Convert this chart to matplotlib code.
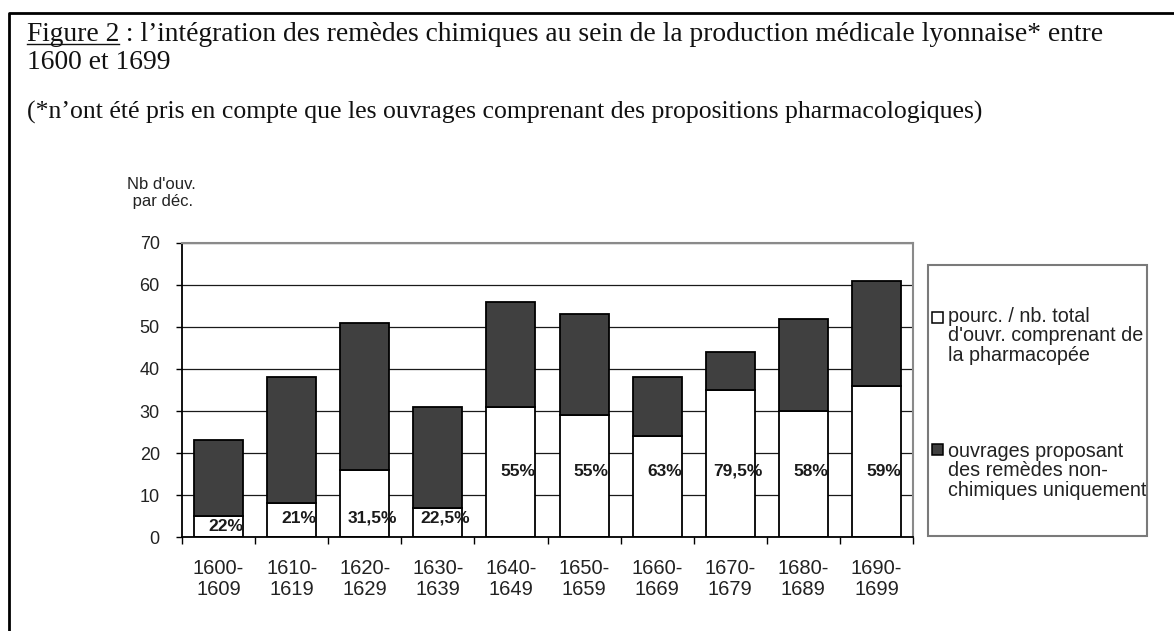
import numpy as np
import matplotlib
matplotlib.use('Agg')
import matplotlib.pyplot as plt
from matplotlib.patches import Rectangle
from matplotlib.lines import Line2D

# --- data ---
decades = ['1600-\n1609', '1610-\n1619', '1620-\n1629', '1630-\n1639', '1640-\n1649',
           '1650-\n1659', '1660-\n1669', '1670-\n1679', '1680-\n1689', '1690-\n1699']
totals = [23, 38, 51, 31, 56, 53, 38, 44, 52, 61]        # nb total d'ouvrages par decennie
chimiques = [5, 8, 16, 7, 31, 29, 24, 35, 30, 36]        # ouvrages avec remedes chimiques
pct_labels = ['22%', '21%', '31,5%', '22,5%', '55%', '55%', '63%', '79,5%', '58%', '59%']

non_chim = np.array(totals) - np.array(chimiques)

W, H = 1174, 631
SERIF = 'Liberation Serif'
SANS = 'Liberation Sans'


def fx(px):
    return px / W


def fy(py):
    return 1 - py / H


fig = plt.figure(figsize=(W / 100, H / 100), dpi=100)
ax = fig.add_axes([fx(182), fy(537), (913 - 182) / W, (537 - 243) / H])

x = np.arange(len(decades))
ax.bar(x, chimiques, width=0.67, color='white', edgecolor='black', linewidth=1.3, zorder=2)
ax.bar(x, non_chim, bottom=chimiques, width=0.67, color='#404040', edgecolor='black',
       linewidth=1.3, zorder=2)

for i, (c, lab) in enumerate(zip(chimiques, pct_labels)):
    if c < 6:
        ly = 2.6
    elif c < 20:
        ly = 4.5
    else:
        ly = 15.7
    ax.text(i + 0.1, ly, lab, ha='center', va='center', fontsize=12.5, fontweight='bold',
            family=SANS, color='#1a1a1a', zorder=3)

ax.set_xlim(-0.5, 9.5)
ax.set_ylim(0, 70)
ax.set_yticks(range(0, 71, 10))
ax.yaxis.grid(True, color='#1a1a1a', linewidth=0.9)
ax.set_axisbelow(True)
ax.tick_params(axis='y', direction='out', length=4, width=1, pad=12, labelsize=13,
               labelcolor='#222222')
for t in ax.get_yticklabels():
    t.set_family(SANS)

ax.set_xticks(x)
ax.set_xticklabels(decades, fontsize=14.5, family=SANS, color='#222222', linespacing=1.1)
ax.tick_params(axis='x', which='major', length=0, pad=16)
ax.set_xticks(np.arange(-0.5, 10, 1), minor=True)
ax.tick_params(axis='x', which='minor', length=5, width=1, direction='out')

for s in ['left', 'bottom']:
    ax.spines[s].set_color('black')
    ax.spines[s].set_linewidth(1.3)
for s in ['top', 'right']:
    ax.spines[s].set_color('#8a8a8a')
    ax.spines[s].set_linewidth(1.5)

# y axis caption
fig.text(fx(161), fy(193), "Nb d'ouv.\n par déc.", ha='center', va='center', fontsize=12,
         family=SANS, color='#222222', linespacing=1.2)

# legend drawn by hand (box to the right of the plot)
fig.add_artist(Rectangle((fx(928), fy(536)), (1147 - 928) / W, (536 - 265) / H,
                         transform=fig.transFigure, fill=False, edgecolor='#7a7a7a',
                         linewidth=1.5))
fig.add_artist(Rectangle((fx(932), fy(323)), 11 / W, 11 / H, transform=fig.transFigure,
                         facecolor='white', edgecolor='black', linewidth=1.1))
fig.add_artist(Rectangle((fx(932), fy(455)), 11 / W, 11 / H, transform=fig.transFigure,
                         facecolor='#404040', edgecolor='black', linewidth=1.1))
fig.text(fx(948), fy(307), "pourc. / nb. total\nd'ouvr. comprenant de\nla pharmacopée",
         ha='left', va='top', fontsize=14.2, family=SANS, color='#222222', linespacing=1.02)
fig.text(fx(948), fy(442), "ouvrages proposant\ndes remèdes non-\nchimiques uniquement",
         ha='left', va='top', fontsize=14.2, family=SANS, color='#222222', linespacing=1.02)

# outer frame (top and left edges visible)
fig.add_artist(Line2D([fx(9), fx(9), 1], [0, fy(13), fy(13)], transform=fig.transFigure,
                      color='black', linewidth=2))

# title, with "Figure 2" underlined
renderer = fig.canvas.get_renderer()
t0 = fig.text(fx(27), fy(41), 'Figure 2', ha='left', va='baseline', fontsize=19.8,
              family=SERIF, color='#111111')
bb = t0.get_window_extent(renderer).transformed(fig.transFigure.inverted())
fig.text(bb.x1, fy(41), ' : l’intégration des remèdes chimiques au sein de la production '
         'médicale lyonnaise* entre', ha='left', va='baseline', fontsize=19.8, family=SERIF,
         color='#111111')
fig.add_artist(Line2D([bb.x0, bb.x1], [fy(44), fy(44)], transform=fig.transFigure,
                      color='#111111', linewidth=1))
fig.text(fx(27), fy(69), '1600 et 1699', ha='left', va='baseline', fontsize=19.8,
         family=SERIF, color='#111111')
fig.text(fx(27), fy(119), '(*n’ont été pris en compte que les ouvrages comprenant des '
         'propositions pharmacologiques)', ha='left', va='baseline', fontsize=18.5,
         family=SERIF, color='#111111')

fig.savefig('out.png', dpi=100)
